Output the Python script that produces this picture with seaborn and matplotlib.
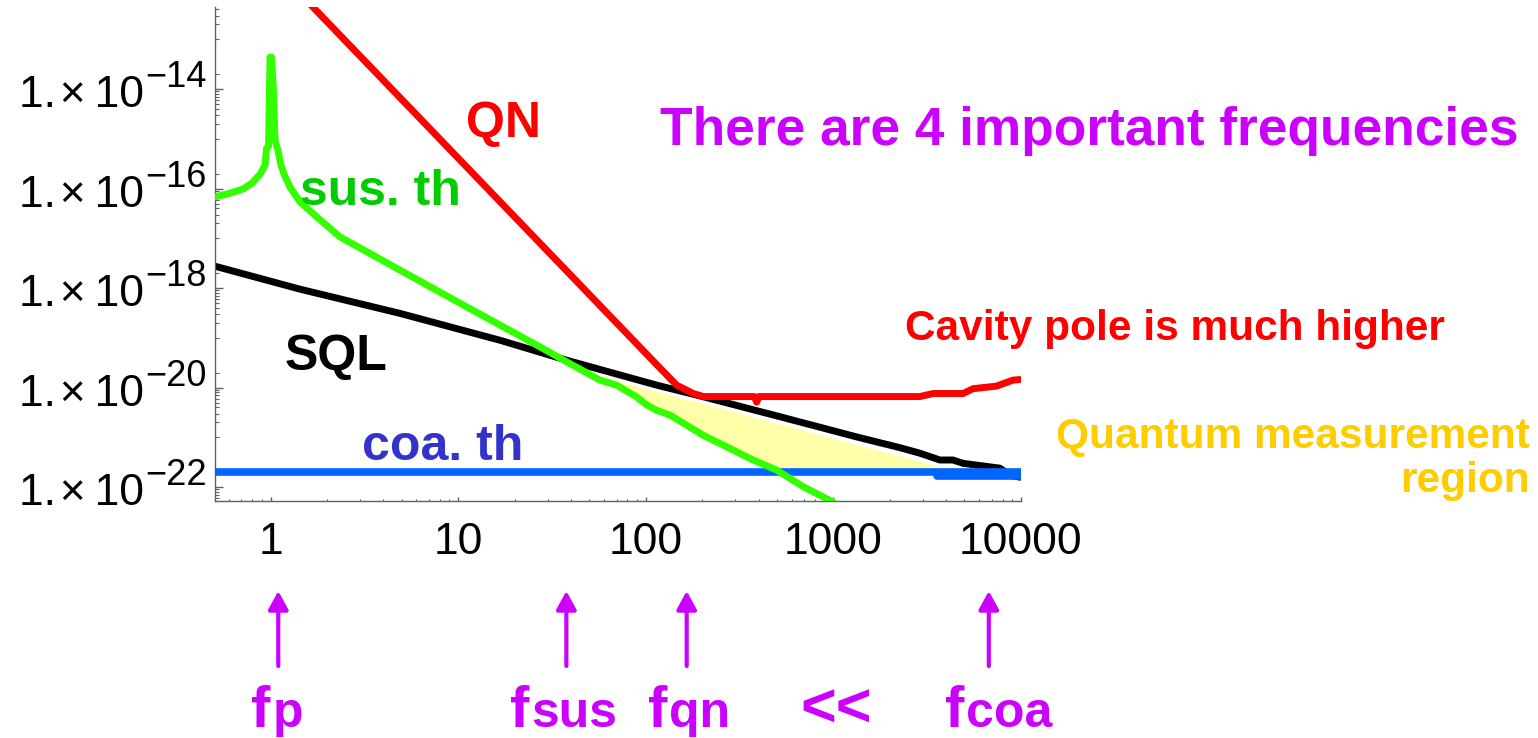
import matplotlib
matplotlib.use("Agg")
import matplotlib.pyplot as plt
import matplotlib.transforms as mtransforms
from matplotlib.ticker import FixedLocator, NullFormatter
import pandas as pd
import seaborn as sns

# ---------------- noise curves: frequency [Hz] and spectral level ----------------
sus_freq = [0.506, 0.608, 0.713, 0.797, 0.879, 0.935, 0.952, 0.976, 0.994, 1.012,
            1.037, 1.057, 1.096, 1.137, 1.180, 1.270, 1.437, 1.763, 2.345, 4.90,
            11.1, 25.2, 37.9, 57.1, 70.0, 89.5, 101.2, 114.5, 134.8, 202.9,
            281.3, 374.6, 499.0, 691.8, 1000.0]
sus_level = [6.8e-17, 8.1e-17, 9.8e-17, 1.29e-16, 1.95e-16, 2.95e-16, 6.5e-16, 7.1e-16, 4.4e-14, 4.4e-14,
             9.5e-15, 9.3e-16, 5.9e-16, 2.95e-16, 1.95e-16, 1.07e-16, 5.4e-17, 2.7e-17, 1.07e-17, 2.3e-18,
             4.2e-19, 7.8e-20, 3.3e-20, 1.41e-20, 1.12e-20, 6.5e-21, 4.5e-21, 3.5e-21, 2.8e-21, 1.10e-21,
             6.0e-22, 3.5e-22, 2.2e-22, 1.02e-22, 5.0e-23]

sql_freq = [0.506, 1.437, 4.90, 16.8, 37.9, 114.5, 194.7, 520, 1333, 1703,
            2268, 2897, 3707, 4347, 4932, 6575, 7745, 8750, 9890]
sql_level = [2.75e-18, 9.5e-19, 3.1e-19, 8.9e-20, 3.55e-20, 1.12e-20, 6.8e-21, 2.6e-21, 1.02e-21, 8.1e-22,
             6.2e-22, 4.8e-22, 3.5e-22, 3.5e-22, 3.0e-22, 2.6e-22, 2.4e-22, 1.74e-22, 1.58e-22]

qn_freq = [1.5, 50.5, 114.5, 146.3, 179.5, 202.9, 380, 391, 402, 2897,
           3412, 4932, 5573, 7430, 9083, 9890]
qn_level = [7.0e-13, 7.2e-19, 2.9e-20, 1.12e-20, 7.6e-21, 6.6e-21, 6.6e-21, 5.1e-21, 6.6e-21, 6.6e-21,
            7.6e-21, 7.6e-21, 9.5e-21, 1.07e-20, 1.41e-20, 1.45e-20]

coa_freq = [0.504, 10000]
coa_level = [2.0e-22, 2.0e-22]
coa_tail_freq = [3565, 10000]
coa_tail_level = [1.7e-22, 1.7e-22]

# quantum measurement region (between the thermal floors and the SQL)
region_freq = [70.0, 89.5, 101.2, 114.5, 134.8, 202.9, 281.3, 374.6, 499.0, 1000, 2000, 3565]
region_upper = [1.38e-20, 1.07e-20, 9.5e-21, 8.5e-21, 7.1e-21, 4.8e-21, 3.5e-21, 2.57e-21, 1.95e-21,
                9.5e-22, 4.8e-22, 2.7e-22]
region_lower = [1.12e-20, 6.5e-21, 4.5e-21, 3.5e-21, 2.8e-21, 1.10e-21, 6.0e-22, 3.5e-22, 2.2e-22,
                2.0e-22, 2.0e-22, 2.0e-22]

# characteristic frequencies marked below the axis
key_freqs = [1.10, 37.8, 165.6, 6760]
key_subs = ["p", "sus", "qn", "coa"]

x_ticks = [1, 10, 100, 1000, 10000]
x_tick_labels = ["1", "10", "100", "1000", "10000"]
y_ticks = [1e-22, 1e-20, 1e-18, 1e-16, 1e-14]
y_exponents = ["22", "20", "18", "16", "14"]

# ---------------- styling ----------------
RED = "#FF0000"
LINE_GREEN = "#33FF00"
TEXT_GREEN = "#00CC00"
BLUE_LINE = "#0066FF"
BLUE_TEXT = "#3333CC"
MAGENTA = "#CC00FF"
GOLD = "#FFCC00"
AXIS_GRAY = "#606060"

sns.set_theme(style="ticks")
plt.rcParams["font.family"] = ["Liberation Sans", "DejaVu Sans"]

W, H = 1538, 738
fig = plt.figure(figsize=(W / 100, H / 100), dpi=100)
fig.patch.set_facecolor("white")


def fx(px):
    return px / W


def fy(py):
    return 1 - py / H


ax = fig.add_axes([fx(214.7), fy(501), (1020.7 - 214.7) / W, (501 - 7) / H])
ax.set_facecolor("white")
ax.set_xscale("log")
ax.set_yscale("log")

ax.fill_between(region_freq, region_lower, region_upper, color="#FFFFAA", lw=0, zorder=1)


def curve(freq, level, color, z, lw=5.0):
    df = pd.DataFrame({"freq": freq, "level": level})
    sns.lineplot(data=df, x="freq", y="level", color=color, lw=lw, sort=False,
                 estimator=None, ax=ax, zorder=z, solid_capstyle="round",
                 solid_joinstyle="round")


curve(sql_freq, sql_level, "black", 2)
curve(coa_freq, coa_level, BLUE_LINE, 3, lw=5.5)
curve(coa_tail_freq, coa_tail_level, BLUE_LINE, 3, lw=5.5)
curve(sus_freq, sus_level, LINE_GREEN, 4, lw=5.0)
curve(qn_freq, qn_level, RED, 5)

ax.set_xlim(0.504, 10000)
ax.set_ylim(10 ** -22.28, 10 ** -12.35)
ax.set_xlabel("")
ax.set_ylabel("")

for side in ("top", "right"):
    ax.spines[side].set_visible(False)
for side in ("left", "bottom"):
    ax.spines[side].set_color(AXIS_GRAY)
    ax.spines[side].set_linewidth(1.0)

# x axis ticks
ax.xaxis.set_major_locator(FixedLocator(x_ticks))
ax.set_xticklabels(x_tick_labels)
x_minor = [m * 10.0 ** e for e in range(-1, 4) for m in range(2, 10)]
ax.xaxis.set_minor_locator(FixedLocator([v for v in x_minor if v > 0.504]))
ax.xaxis.set_minor_formatter(NullFormatter())
ax.tick_params(axis="x", which="major", direction="in", length=3, width=1,
               color=AXIS_GRAY, labelsize=32, pad=15, labelcolor="black")
ax.tick_params(axis="x", which="minor", direction="in", length=1.8, width=0.8,
               color=AXIS_GRAY)

# y axis ticks (labels drawn separately in the 1.x10^n style)
ax.yaxis.set_major_locator(FixedLocator(y_ticks))
ax.yaxis.set_major_formatter(NullFormatter())
y_minor = []
for e in range(-23, -12):
    if e % 2 == 1:
        y_minor += [m * 10.0 ** e for m in range(1, 10)]
    else:
        y_minor.append(2 * 10.0 ** e)
ax.yaxis.set_minor_locator(FixedLocator(y_minor))
ax.yaxis.set_minor_formatter(NullFormatter())
ax.tick_params(axis="y", which="major", direction="in", length=6, width=1, color=AXIS_GRAY)
ax.tick_params(axis="y", which="minor", direction="in", length=3, width=0.8, color=AXIS_GRAY)

ytrans = ax.get_yaxis_transform()
label_x = (144 - 214.7) / (1020.7 - 214.7)
base_tr = mtransforms.offset_copy(ytrans, fig=fig, x=0, y=-18, units="dots")
exp_tr = mtransforms.offset_copy(ytrans, fig=fig, x=1, y=2, units="dots")
for val, ex in zip(y_ticks, y_exponents):
    ax.text(label_x, val, "1.\u200a\u00d7\u200910", transform=base_tr, ha="right",
            va="baseline", fontsize=32, color="black", clip_on=False)
    ax.text(label_x, val, "\u2212" + ex, transform=exp_tr, ha="left",
            va="baseline", fontsize=26, color="black", clip_on=False)

# curve labels and notes
bold = dict(fontweight="bold", ha="left", va="baseline")
fig.text(fx(466), fy(137), "QN", color=RED, fontsize=36, **bold)
fig.text(fx(300), fy(205), "sus. th", color=TEXT_GREEN, fontsize=36, **bold)
fig.text(fx(285), fy(370), "SQL", color="black", fontsize=36, **bold)
fig.text(fx(362), fy(460), "coa. th", color=BLUE_TEXT, fontsize=36, **bold)
fig.text(fx(660), fy(145), "There are 4 important frequencies", color=MAGENTA,
         fontsize=38.3, **bold)
fig.text(fx(905), fy(340), "Cavity pole is much higher", color=RED, fontsize=30.5, **bold)
fig.text(fx(1530), fy(448), "Quantum measurement", color=GOLD, fontsize=30.5,
         fontweight="bold", ha="right", va="baseline")
fig.text(fx(1530), fy(492), "region", color=GOLD, fontsize=30.5,
         fontweight="bold", ha="right", va="baseline")

# arrows marking the characteristic frequencies
label_dx = [-27, -56, -39, -44]
for fq, sub, dx in zip(key_freqs, key_subs, label_dx):
    ax.annotate("", xy=(fq, fy(591)), xytext=(fq, fy(666)),
                xycoords=("data", "figure fraction"),
                textcoords=("data", "figure fraction"),
                arrowprops=dict(arrowstyle="-|>,head_length=0.55,head_width=0.3",
                                color=MAGENTA, lw=3, shrinkA=0, shrinkB=0,
                                mutation_scale=20),
                annotation_clip=False)
    anchor = mtransforms.blended_transform_factory(ax.transData, fig.transFigure)
    f_tr = mtransforms.offset_copy(anchor, fig=fig, x=dx, y=0, units="dots")
    s_tr = mtransforms.offset_copy(anchor, fig=fig, x=dx + 21, y=0, units="dots")
    fig.text(fq, fy(727), "f", transform=f_tr, color=MAGENTA, fontsize=42, **bold)
    fig.text(fq, fy(727), sub, transform=s_tr, color=MAGENTA, fontsize=36, **bold)

fig.text(fx(800), fy(727), "<<", color=MAGENTA, fontsize=44, **bold)

fig.savefig("out.png", dpi=100, facecolor="white")
